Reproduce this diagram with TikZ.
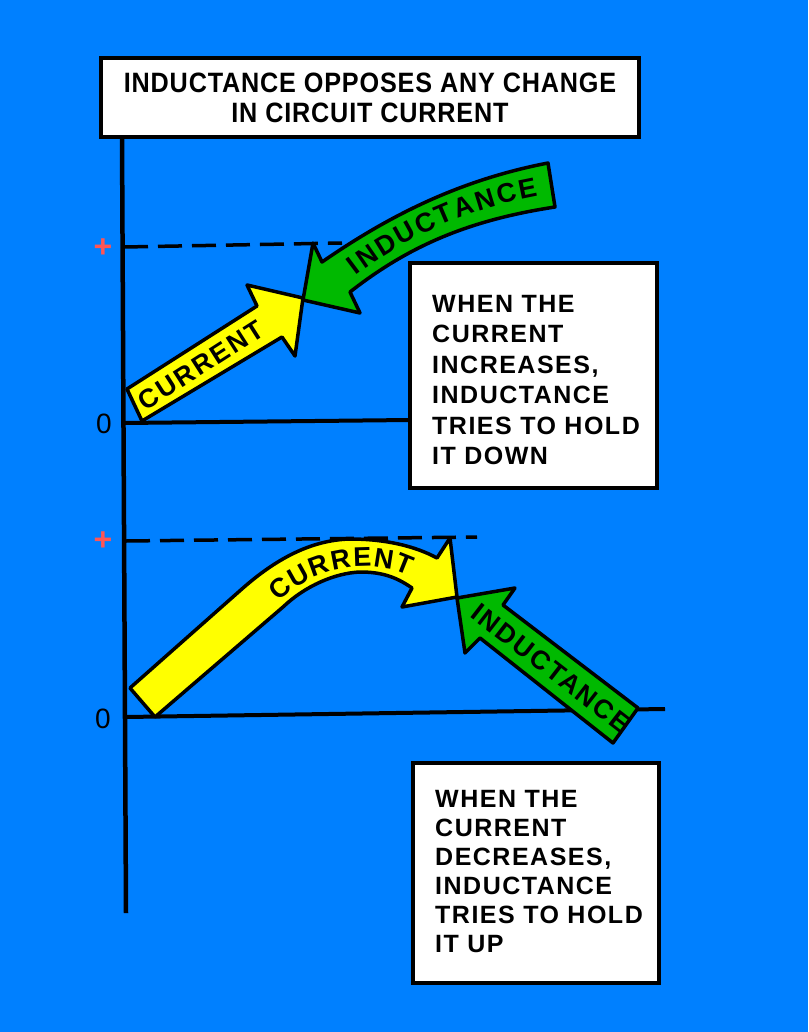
\documentclass[tikz,border=0pt]{standalone}
\usepackage{fontspec}
\usetikzlibrary{decorations.text}
\newfontfamily\titlefont{Liberation Sans}[FakeStretch=0.9,LetterSpace=3]
\newfontfamily\boxfont{Liberation Sans}[LetterSpace=6]
\newfontfamily\arrowfont{Liberation Sans}[LetterSpace=8]
\newfontfamily\plainfont{Liberation Sans}
\definecolor{bgblue}{RGB}{0,128,255}
\definecolor{curyellow}{RGB}{255,255,0}
\definecolor{indgreen}{RGB}{0,185,0}
\definecolor{plusred}{RGB}{255,85,85}
\newcommand\curvetext{\plainfont\bfseries\fontsize{27}{30}\selectfont}
\begin{document}
\begin{tikzpicture}[x=1pt,y=-1pt,
  axisline/.style={line width=4.5pt},
  zeroline/.style={line width=4pt},
  levelline/.style={line width=3.5pt, dash pattern=on 24pt off 10pt},
  textbox/.style={draw, fill=white, line width=4.5pt, inner sep=0pt},
  boxtext/.style={anchor=north west, inner sep=0pt, align=left, font={\boxfont\bfseries\fontsize{25}{30.4}\selectfont}},
  arrowbody/.style={draw, line width=3.5pt, line join=round},
  currentarrow/.style={arrowbody, fill=curyellow},
  inductarrow/.style={arrowbody, fill=indgreen},
  straighttext/.style={inner sep=0pt, font={\arrowfont\bfseries\fontsize{26.5}{30}\selectfont}},
  axislabel/.style={inner sep=0pt, font={\plainfont\fontsize{28}{30}\selectfont}},
  pluslabel/.style={inner sep=0pt, text=plusred, font={\plainfont\bfseries\fontsize{32}{32}\selectfont}},
]
\useasboundingbox (0,0) rectangle (808,1032);
\fill[bgblue] (0,0) rectangle (808,1032);

% vertical axis
\coordinate (axtop) at (122,137);
\coordinate (axbot) at (126,913);
\draw[axisline] (axtop) -- (axbot);

% title
\node[textbox, minimum width=538pt, minimum height=79pt, align=center,
      font={\titlefont\bfseries\fontsize{28}{30}\selectfont}] (title) at (370,97.5)
  {INDUCTANCE OPPOSES ANY CHANGE\\IN CIRCUIT CURRENT};

% zero and level lines
\coordinate (z1a) at (124,423);
\coordinate (z1b) at (410,420);
\coordinate (z2a) at (126,717);
\coordinate (z2b) at (665,709);
\draw[zeroline] (z1a) -- (z1b);
\draw[zeroline] (z2a) -- (z2b);
\coordinate (l1a) at (124,247);
\coordinate (l1b) at (342,243);
\coordinate (l2a) at (126,541);
\coordinate (l2b) at (477,537);
\draw[levelline] (l1a) -- (l1b);
\draw[levelline] (l2a) -- (l2b);

% explanation boxes
\node[textbox, minimum width=247pt, minimum height=225pt] (box1) at (533.5,375.5) {};
\node[boxtext] (box1text) at (432,295)
  {WHEN THE\\CURRENT\\INCREASES,\\INDUCTANCE\\TRIES TO HOLD\\IT DOWN};
\node[textbox, minimum width=246pt, minimum height=220pt] (box2) at (536,873) {};
\node[boxtext, font={\boxfont\bfseries\fontsize{25}{29}\selectfont}] (box2text) at (435,790)
  {WHEN THE\\CURRENT\\DECREASES,\\INDUCTANCE\\TRIES TO HOLD\\IT UP};

% upper graph: current arrow (straight)
\draw[currentarrow] (127,389) -- (257,306) -- (247,285) -- (303,298) -- (295,356)
  -- (282,337) -- (142,421) -- cycle;
\node[straighttext, rotate=32.6] (curtext1) at (201,365) {CURRENT};

% upper graph: inductance arrow (curved)
\draw[inductarrow] (303,300) -- (313,243) -- (322,262)
  .. controls (390,215) and (460,180) .. (548,163) -- (555,207)
  .. controls (470,220) and (410,245) .. (350,292) -- (360,313) -- cycle;
\path[decorate, decoration={text along path, text={|\curvetext|INDUCTANCE},
  text align={fit to path}, raise=-10pt}]
  (350,268) .. controls (400,230) and (460,200) .. (536,186);

% lower graph: current arrow (curved)
\draw[currentarrow] (130,688) -- (243,588)
  .. controls (275,560) and (310,540) .. (350,539)
  .. controls (385,539) and (415,546) .. (437,558)
  -- (450,538) -- (457,597) -- (402,607) -- (412,588)
  .. controls (395,576) and (380,572) .. (360,572)
  .. controls (335,573) and (305,586) .. (283,607)
  -- (155,717) -- cycle;
\path[decorate, decoration={text along path, text={|\curvetext|CURRENT},
  text align={fit to path}, raise=-10pt}]
  (272,594) .. controls (305,560) and (370,545) .. (412,567);

% lower graph: inductance arrow (straight)
\draw[inductarrow] (457,598) -- (515,588) -- (503,605) -- (638,708) -- (613,743)
  -- (480,638) -- (465,653) -- cycle;
\node[straighttext, rotate=-37.8] (indtext2) at (551,668) {INDUCTANCE};

% axis labels
\node[pluslabel] (plus1) at (103,248) {+};
\node[axislabel] (zero1) at (104,424) {0};
\node[pluslabel] (plus2) at (103,541) {+};
\node[axislabel] (zero2) at (103,719) {0};
\end{tikzpicture}
\end{document}
